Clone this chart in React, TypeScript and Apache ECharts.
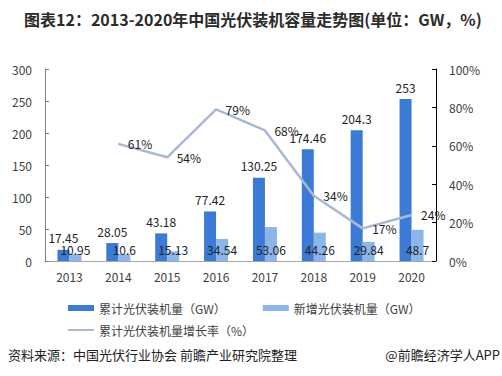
import React, { useEffect, useRef } from "react";
import * as echarts from "echarts";

const years = ["2013", "2014", "2015", "2016", "2017", "2018", "2019", "2020"];
const cumulative = [17.45, 28.05, 43.18, 77.42, 130.25, 174.46, 204.3, 253];
const added = [10.95, 10.6, 15.13, 34.54, 53.06, 44.26, 29.84, 48.7];
const growth = [null, 61, 54, 79, 68, 34, 17, 24];

const FONT = "'Noto Sans CJK SC', 'Noto Sans', sans-serif";

export default function App() {
  const ref = useRef<HTMLDivElement>(null);
  useEffect(() => {
    if (!ref.current) return;
    const chart = echarts.init(ref.current, null, { renderer: "svg" });
    chart.setOption({
      animation: false,
      backgroundColor: "#ffffff",
      textStyle: { fontFamily: FONT },
      title: {
        text: "图表12：2013-2020年中国光伏装机容量走势图(单位：GW，%)",
        left: 19,
        top: 6,
        textStyle: { fontSize: 16, fontWeight: "bold", color: "#2b2b2b", fontFamily: FONT },
      },
      grid: { left: 45, right: 66, top: 69, bottom: 115 },
      legend: [
        {
          data: ["累计光伏装机量（GW）", "新增光伏装机量（GW）"],
          left: 63,
          top: 297,
          itemWidth: 26,
          itemHeight: 6,
          itemGap: 37,
          icon: "rect",
          textStyle: { fontSize: 12, color: "#404040", fontFamily: FONT },
        },
        {
          data: ["累计光伏装机量增长率（%）"],
          left: 63,
          top: 319,
          itemWidth: 26,
          itemHeight: 2,
          icon: "rect",
          textStyle: { fontSize: 12, color: "#404040", fontFamily: FONT },
        },
      ],
      xAxis: {
        type: "category",
        data: years,
        axisLine: { lineStyle: { color: "#a6a6a6" } },
        axisTick: { show: false },
        axisLabel: { color: "#404040", fontSize: 12, margin: 9, fontFamily: FONT },
      },
      yAxis: [
        {
          type: "value",
          min: 0,
          max: 300,
          interval: 50,
          splitLine: { show: false },
          axisLine: { show: true, lineStyle: { color: "#808080" } },
          axisTick: { show: true, inside: true, length: 4, lineStyle: { color: "#808080" } },
          axisLabel: { color: "#404040", fontSize: 12, margin: 13, fontFamily: FONT },
        },
        {
          type: "value",
          min: 0,
          max: 100,
          interval: 20,
          position: "right",
          splitLine: { show: false },
          axisLine: { show: true, lineStyle: { color: "#000000" } },
          axisTick: { show: true, inside: true, length: 4, lineStyle: { color: "#000000" } },
          axisLabel: { color: "#404040", fontSize: 12, margin: 13, formatter: "{value}%", fontFamily: FONT },
        },
      ],
      series: [
        {
          name: "累计光伏装机量（GW）",
          type: "bar",
          data: cumulative,
          barWidth: 12,
          barGap: "0%",
          itemStyle: { color: "#3b7bd6" },
          label: { show: true, position: "top", distance: 6, color: "#222", fontSize: 12, fontFamily: FONT },
        },
        {
          name: "新增光伏装机量（GW）",
          type: "bar",
          data: added,
          barWidth: 12,
          barGap: "0%",
          itemStyle: { color: "#8cb5ea" },
          label: { show: true, position: "insideBottom", distance: 6, color: "#222", fontSize: 12, fontFamily: FONT },
        },
        {
          name: "累计光伏装机量增长率（%）",
          type: "line",
          yAxisIndex: 1,
          data: growth,
          symbol: "circle",
          symbolSize: 1,
          showSymbol: true,
          itemStyle: { color: "#a9b9d3" },
          lineStyle: { color: "#a9b9d3", width: 2.5 },
          z: 5,
          label: {
            show: true,
            position: "right",
            distance: 9,
            color: "#222",
            fontSize: 12,
            fontFamily: FONT,
            formatter: "{c}%",
          },
        },
      ],
      graphic: [
        {
          type: "text",
          left: 8,
          top: 348,
          style: { text: "资料来源：中国光伏行业协会 前瞻产业研究院整理", fontSize: 13, fill: "#222", fontFamily: FONT },
        },
        {
          type: "text",
          right: 2,
          top: 348,
          style: { text: "@前瞻经济学人APP", fontSize: 13, fill: "#222", fontFamily: FONT },
        },
      ],
    });
    return () => chart.dispose();
  }, []);
  return <div ref={ref} style={{ width: 502, height: 376, position: "absolute", left: 0, top: 0 }} />;
}
